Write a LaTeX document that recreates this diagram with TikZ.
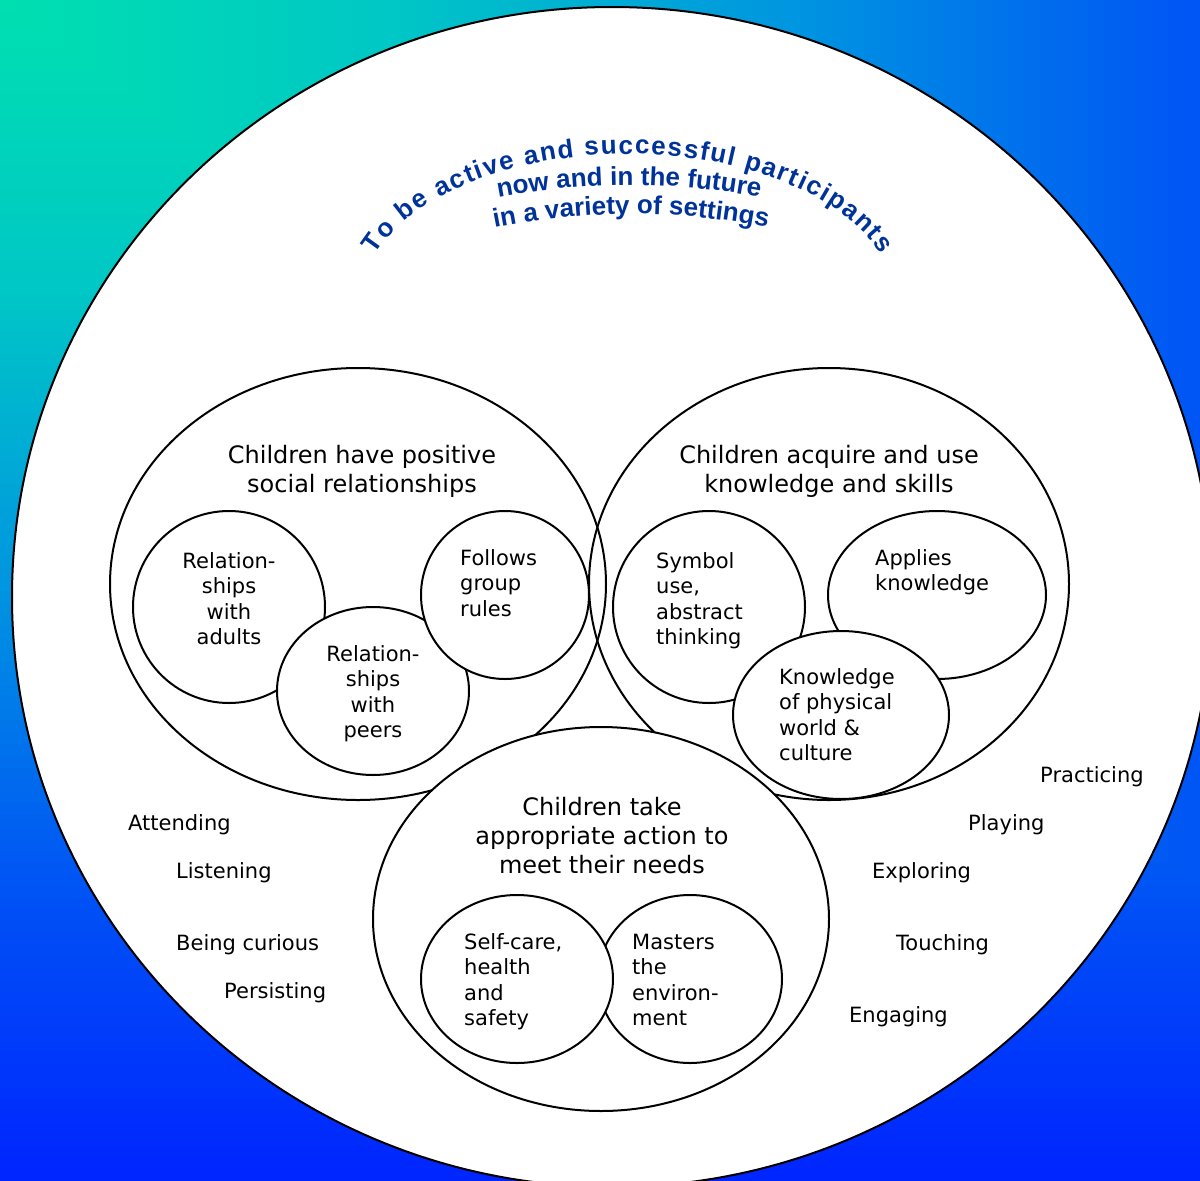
\documentclass[tikz,border=0pt]{standalone}
\usepackage{fontspec}
\setmainfont{DejaVu Sans}
\newfontfamily\titlefont{Liberation Sans}
\usetikzlibrary{shapes.geometric,decorations.text}

\definecolor{titleblue}{RGB}{0,51,153}

% stacked lines whose baseline is the first line
\newcommand\ctrlines[1]{\vtop{\halign{\hfil##\hfil\cr#1\crcr}}}
\newcommand\leftlines[1]{\vtop{\halign{##\hfil\cr#1\crcr}}}
\newcommand\titlestyle{\titlefont\bfseries\fontsize{26}{30}\selectfont}

\tikzset{
  outline/.style={draw=black, line width=2pt},
  bigoval/.style={ellipse, outline, inner sep=0pt, outer sep=0pt},
  subcircle/.style={ellipse, outline, fill=white, inner sep=0pt, outer sep=0pt},
  headtext/.style={inner sep=0pt, anchor=base, font=\fontsize{24}{29}\selectfont},
  ctrtext/.style={inner sep=0pt, anchor=base, font=\fontsize{21}{25.5}\selectfont},
  lefttext/.style={inner sep=0pt, anchor=base west, font=\fontsize{21}{25.5}\selectfont},
  actlabel/.style={inner sep=0pt, anchor=base west, font=\fontsize{21}{25.5}\selectfont},
  titlearc/.style={decorate, decoration={text along path, text color=titleblue,
      text={|\titlestyle|#1}}}
}

\begin{document}
\begin{tikzpicture}[x=1pt, y=-1pt]
\useasboundingbox (0,0) rectangle (1200,1181);

% corner gradient: teal at the top left, deep blue towards the far corner
\begin{scope}
  \clip (0,0) rectangle (1200,1181);
  \foreach \k in {0,...,99}{
    \pgfmathsetmacro\tv{1-\k/100}
    \pgfmathtruncatemacro\gv{\tv<0.25 ? 224-96*\tv : (\tv<0.5 ? 200-200*(\tv-0.25) : (\tv<0.75 ? 150-260*(\tv-0.5) : 85-188*(\tv-0.75)))}
    \pgfmathtruncatemacro\bv{\tv<0.25 ? 176+88*\tv : (\tv<0.5 ? 198+108*(\tv-0.25) : (\tv<0.75 ? 225+80*(\tv-0.5) : 245+40*(\tv-0.75)))}
    \definecolor{bgc}{RGB}{0,\gv,\bv}
    \fill[bgc] (0,0) rectangle ({1600*\tv},{1181*\tv});
  }
\end{scope}

% outer white oval
\node[bigoval, fill=white, minimum width=1200pt, minimum height=1180pt] (frame) at (612,597) {};

% arched title
\path[titlearc={To be active and successful participants},
      decoration={text align=fit to path}]
  (628,304) ++(199.3:268 and 150)
  arc[start angle=199.3, end angle=340.7, x radius=268, y radius=150];
\path[titlearc={now and in the future}, decoration={text align=center}]
  (629,885) ++(255:700) arc[start angle=255, end angle=285, radius=700];
\path[titlearc={in a variety of settings}, decoration={text align=center}]
  (631,914) ++(255:700) arc[start angle=255, end angle=285, radius=700];

% two upper domains
\node[bigoval, minimum width=496pt, minimum height=432pt] (social) at (358,584) {};
\node[bigoval, minimum width=480pt, minimum height=432pt] (knowskills) at (829,584) {};

% circles of the social domain
\node[subcircle, minimum width=192pt, minimum height=192pt] (adults) at (229,607) {};
\node[subcircle, minimum width=192pt, minimum height=168pt] (peers) at (373,691) {};
\node[subcircle, minimum width=168pt, minimum height=168pt] (rules) at (505,595) {};

% circles of the knowledge domain
\node[subcircle, minimum width=192pt, minimum height=192pt] (symbol) at (709,607) {};
\node[subcircle, minimum width=218pt, minimum height=168pt] (applies) at (937,595) {};
\node[subcircle, minimum width=216pt, minimum height=168pt] (physical) at (841,715) {};

% lower domain and its circles
\node[bigoval, fill=white, minimum width=456pt, minimum height=384pt] (action) at (601,919) {};
\node[subcircle, minimum width=184pt, minimum height=168pt] (masters) at (690,979) {};
\node[subcircle, minimum width=192pt, minimum height=168pt] (selfcare) at (517,979) {};

% domain headings
\node[headtext] (socialhead) at (362,463)
  {\ctrlines{Children have positive\cr social relationships}};
\node[headtext] (knowhead) at (829,463)
  {\ctrlines{Children acquire and use\cr knowledge and skills}};
\node[headtext] (actionhead) at (602,815)
  {\ctrlines{Children take\cr appropriate action to\cr meet their needs}};

% circle texts
\node[ctrtext] (adultstext) at (229,568) {\ctrlines{Relation-\cr ships\cr with\cr adults}};
\node[ctrtext] (peerstext) at (373,661) {\ctrlines{Relation-\cr ships\cr with\cr peers}};
\node[lefttext] (rulestext) at (460,565) {\leftlines{Follows\cr group\cr rules}};
\node[lefttext] (symboltext) at (656,568) {\leftlines{Symbol\cr use,\cr abstract\cr thinking}};
\node[lefttext] (appliestext) at (875,565) {\leftlines{Applies\cr knowledge}};
\node[lefttext] (physicaltext) at (779,684) {\leftlines{Knowledge\cr of physical\cr world \&\cr culture}};
\node[lefttext] (selfcaretext) at (464,949) {\leftlines{Self-care,\cr health\cr and\cr safety}};
\node[lefttext] (masterstext) at (632,949) {\leftlines{Masters\cr the\cr environ-\cr ment}};

% learning dispositions around the domains
\node[actlabel] (attending) at (128,830) {Attending};
\node[actlabel] (listening) at (176,878) {Listening};
\node[actlabel] (curious) at (176,950) {Being curious};
\node[actlabel] (persisting) at (224,998) {Persisting};
\node[actlabel] (practicing) at (1040,782) {Practicing};
\node[actlabel] (playing) at (968,830) {Playing};
\node[actlabel] (exploring) at (872,878) {Exploring};
\node[actlabel] (touching) at (896,950) {Touching};
\node[actlabel] (engaging) at (849,1022) {Engaging};
\end{tikzpicture}
\end{document}
